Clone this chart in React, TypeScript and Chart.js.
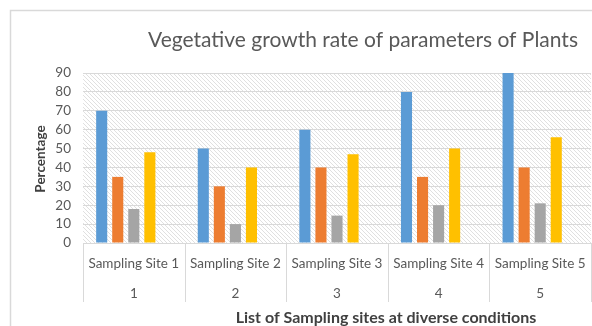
import React, { useEffect, useRef } from "react";
import { Chart, registerables } from "chart.js";

Chart.register(...registerables);

const siteLabels = ["Sampling Site 1", "Sampling Site 2", "Sampling Site 3", "Sampling Site 4", "Sampling Site 5"];
const siteNumbers = ["1", "2", "3", "4", "5"];
const series1 = [70, 50, 60, 80, 90];
const series2 = [35, 30, 40, 35, 40];
const series3 = [18, 10, 14.5, 20, 21];
const series4 = [48, 40, 47, 50, 56];
const emptySeries = [null, null, null, null, null];
const yTicks = [0, 10, 20, 30, 40, 50, 60, 70, 80, 90];

const chartTitle = "Vegetative growth rate of parameters of Plants";
const xTitle = "List of Sampling sites at diverse conditions";
const yTitle = "Percentage";

const FONT = "Lato, 'Open Sans', sans-serif";
const TEXT = "#595959";
const LINE = "#d9d9d9";

function makePattern(ctx: CanvasRenderingContext2D) {
  const c = document.createElement("canvas");
  c.width = 4;
  c.height = 4;
  const p = c.getContext("2d")!;
  p.fillStyle = "#ffffff";
  p.fillRect(0, 0, 4, 4);
  p.strokeStyle = "#e0e0e0";
  p.lineWidth = 1;
  p.beginPath();
  p.moveTo(-1, -1);
  p.lineTo(5, 5);
  p.moveTo(-1, 3);
  p.lineTo(1, 5);
  p.moveTo(3, -1);
  p.lineTo(5, 1);
  p.stroke();
  return ctx.createPattern(c, "repeat");
}

const decor = {
  id: "decor",
  beforeDraw(chart: any) {
    const { ctx, chartArea } = chart;
    ctx.save();
    ctx.fillStyle = "#ffffff";
    ctx.fillRect(0, 0, chart.width, chart.height);
    ctx.strokeStyle = LINE;
    ctx.lineWidth = 1.5;
    ctx.beginPath();
    ctx.moveTo(10.5, chart.height + 5);
    ctx.lineTo(10.5, 10.5);
    ctx.lineTo(chart.width + 5, 10.5);
    ctx.stroke();
    const pat = makePattern(ctx);
    if (pat) {
      ctx.fillStyle = pat;
      ctx.fillRect(chartArea.left, chartArea.top, chartArea.right - chartArea.left, chartArea.bottom - chartArea.top);
    }
    ctx.restore();
  },
  afterDraw(chart: any) {
    const { ctx, chartArea } = chart;
    const x = chart.scales.x;
    ctx.save();
    ctx.fillStyle = TEXT;
    ctx.textAlign = "center";
    ctx.textBaseline = "middle";
    ctx.font = `21px ${FONT}`;
    ctx.fillText(chartTitle, 363, 40);
    ctx.strokeStyle = LINE;
    ctx.lineWidth = 1;
    const n = siteLabels.length;
    const half = (x.getPixelForValue(1) - x.getPixelForValue(0)) / 2;
    ctx.beginPath();
    ctx.moveTo(chartArea.left, chartArea.bottom + 0.5);
    ctx.lineTo(chartArea.right, chartArea.bottom + 0.5);
    for (let i = 0; i <= n; i++) {
      const px = Math.round(x.getPixelForValue(i) - half) + 0.5;
      ctx.moveTo(px, chartArea.bottom);
      ctx.lineTo(px, 302);
    }
    ctx.stroke();
    ctx.font = `13.5px ${FONT}`;
    for (let i = 0; i < n; i++) {
      const px = x.getPixelForValue(i);
      ctx.fillText(siteLabels[i], px, 264);
      ctx.fillText(siteNumbers[i], px, 294);
    }
    ctx.fillStyle = "#404040";
    ctx.font = `bold 16px ${FONT}`;
    ctx.fillText(xTitle, 386, 318);
    ctx.save();
    ctx.translate(41, 159);
    ctx.rotate(-Math.PI / 2);
    ctx.font = `bold 13.5px ${FONT}`;
    ctx.fillText(yTitle, 0, 0);
    ctx.restore();
    ctx.restore();
  },
};

export default function App() {
  const ref = useRef<HTMLCanvasElement | null>(null);
  useEffect(() => {
    if (!ref.current) return;
    const chart = new Chart(ref.current, {
      type: "bar",
      data: {
        labels: siteLabels,
        datasets: [
          { label: "Series 1", data: series1, backgroundColor: "#5B9BD5" },
          { label: "Series 2", data: series2, backgroundColor: "#ED7D31" },
          { label: "Series 3", data: series3, backgroundColor: "#A5A5A5" },
          { label: "Series 4", data: series4, backgroundColor: "#FFC000" },
          { label: "", data: emptySeries, backgroundColor: "transparent" },
        ],
      },
      options: {
        responsive: false,
        animation: false,
        datasets: { bar: { categoryPercentage: 0.79, barPercentage: 0.69 } },
        layout: { padding: { left: 0, right: 1, top: 73, bottom: 83 } },
        plugins: { legend: { display: false }, tooltip: { enabled: false }, title: { display: false } },
        scales: {
          x: { display: false },
          y: {
            min: 0,
            max: 90,
            afterBuildTicks: (s: any) => {
              s.ticks = yTicks.map((v) => ({ value: v }));
            },
            afterFit: (s: any) => {
              s.width = 83;
            },
            border: { display: false },
            grid: { color: LINE, drawTicks: false, lineWidth: 1 },
            ticks: { autoSkip: false, padding: 12, color: TEXT, font: { family: FONT, size: 13.5 } },
          },
        },
      },
      plugins: [decor],
    });
    return () => chart.destroy();
  }, []);
  return (
    <div style={{ position: "fixed", left: 0, top: 0, width: 592, height: 326, background: "#fff" }}>
      <canvas ref={ref} width={592} height={326} style={{ display: "block" }} />
    </div>
  );
}
